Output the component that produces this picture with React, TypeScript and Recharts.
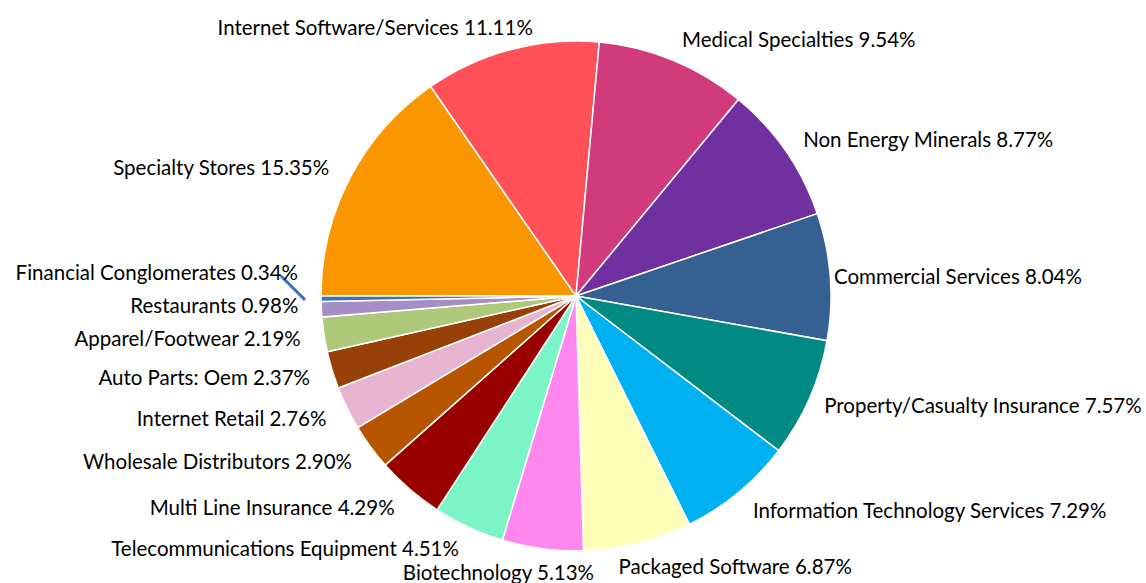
import { Pie, PieChart, Cell } from "recharts"

const sectors = [
  "Specialty Stores",
  "Internet Software/Services",
  "Medical Specialties",
  "Non Energy Minerals",
  "Commercial Services",
  "Property/Casualty Insurance",
  "Information Technology Services",
  "Packaged Software",
  "Biotechnology",
  "Telecommunications Equipment",
  "Multi Line Insurance",
  "Wholesale Distributors",
  "Internet Retail",
  "Auto Parts: Oem",
  "Apparel/Footwear",
  "Restaurants",
  "Financial Conglomerates",
]

const weights = [15.35, 11.11, 9.54, 8.77, 8.04, 7.57, 7.29, 6.87, 5.13, 4.51, 4.29, 2.9, 2.76, 2.37, 2.19, 0.98, 0.34]

const colors = [
  "#FA9600", "#FF5157", "#D13B7B", "#7030A0", "#356092", "#008A84",
  "#00B0F0", "#FFFFBA", "#FF88EE", "#7BF4C8", "#990000", "#B85500",
  "#E6B4D0", "#974109", "#ADC878", "#A58EC6", "#3A73C0",
]

const data = sectors.map((name, i) => ({ name, value: weights[i] }))

const CX = 576
const CY = 296
const R = 255
const LABEL_R = 278
const START = 180
const RAD = Math.PI / 180
const FONT = "Lato, 'Open Sans', sans-serif"
const FONT_SIZE = 20.5

const labelText = (i: number) => `${sectors[i]} ${weights[i].toFixed(2)}%`

let ctx: CanvasRenderingContext2D | null = null
const measure = (s: string) => {
  if (!ctx) ctx = document.createElement("canvas").getContext("2d")
  if (!ctx) return s.length * FONT_SIZE * 0.5
  ctx.font = `${FONT_SIZE}px ${FONT}`
  return ctx.measureText(s).width
}

// label layout: place along the mid angle, then push left-side labels apart
const total = weights.reduce((a, b) => a + b, 0)
let layoutCache: any[] | null = null
const getLayout = () => {
  if (layoutCache) return layoutCache
  let acc = 0
  const items = weights.map((w, i) => {
    const mid = START - ((acc + w / 2) / total) * 360
    acc += w
    const cos = Math.cos(mid * RAD)
    const sin = Math.sin(mid * RAD)
    // right-hand labels near the horizontal sit a little closer to the pie
    const r = cos > 0 ? LABEL_R - 20 * Math.pow(cos, 12) : LABEL_R
    const width = measure(labelText(i))
    // share of the text that hangs left of the anchor point
    const f = Math.min(1, Math.max(0, 0.5 - 1.62 * cos))
    const ax = CX + r * cos
    const ay = CY - r * sin
    return { cos, sin, ax, x: ax - f * width, y: ay, baseY: ay }
  })
  const left = items
    .filter((it) => it.cos < -0.2 && it.sin < 0.2)
    .sort((a, b) => b.y - a.y)
  for (let k = 1; k < left.length; k++) {
    if (left[k - 1].y - left[k].y < 33) left[k].y = left[k - 1].y - 33
  }
  layoutCache = items
  return items
}

const renderLabel = (props: any) => {
  const { index } = props
  const p = getLayout()[index]
  const moved = Math.abs(p.y - p.baseY) > 10
  return (
    <g key={`lbl-${index}`}>
      {moved && (
        <line
          x1={p.ax - 17}
          y1={p.y + 4}
          x2={CX + (R + 16) * p.cos}
          y2={CY - (R + 16) * p.sin + 1}
          stroke={colors[index]}
          strokeWidth={3}
        />
      )}
      <text
        x={p.x}
        y={p.y}
        textAnchor="start"
        dominantBaseline="central"
        fill="#000"
        fontSize={FONT_SIZE}
        fontFamily={FONT}
      >
        {labelText(index)}
      </text>
    </g>
  )
}

export default function App() {
  return (
    <div style={{ position: "absolute", left: 0, top: 0, background: "#fff" }}>
      <PieChart width={1146} height={583} margin={{ top: 0, right: 0, bottom: 0, left: 0 }}>
        <Pie
          data={data}
          dataKey="value"
          nameKey="name"
          cx={CX}
          cy={CY}
          outerRadius={R}
          startAngle={START}
          endAngle={START - 360}
          stroke="#FFFFFF"
          strokeWidth={1.5}
          label={renderLabel}
          labelLine={false}
          isAnimationActive={false}
        >
          {data.map((d, i) => (
            <Cell key={d.name} fill={colors[i]} />
          ))}
        </Pie>
      </PieChart>
    </div>
  )
}
